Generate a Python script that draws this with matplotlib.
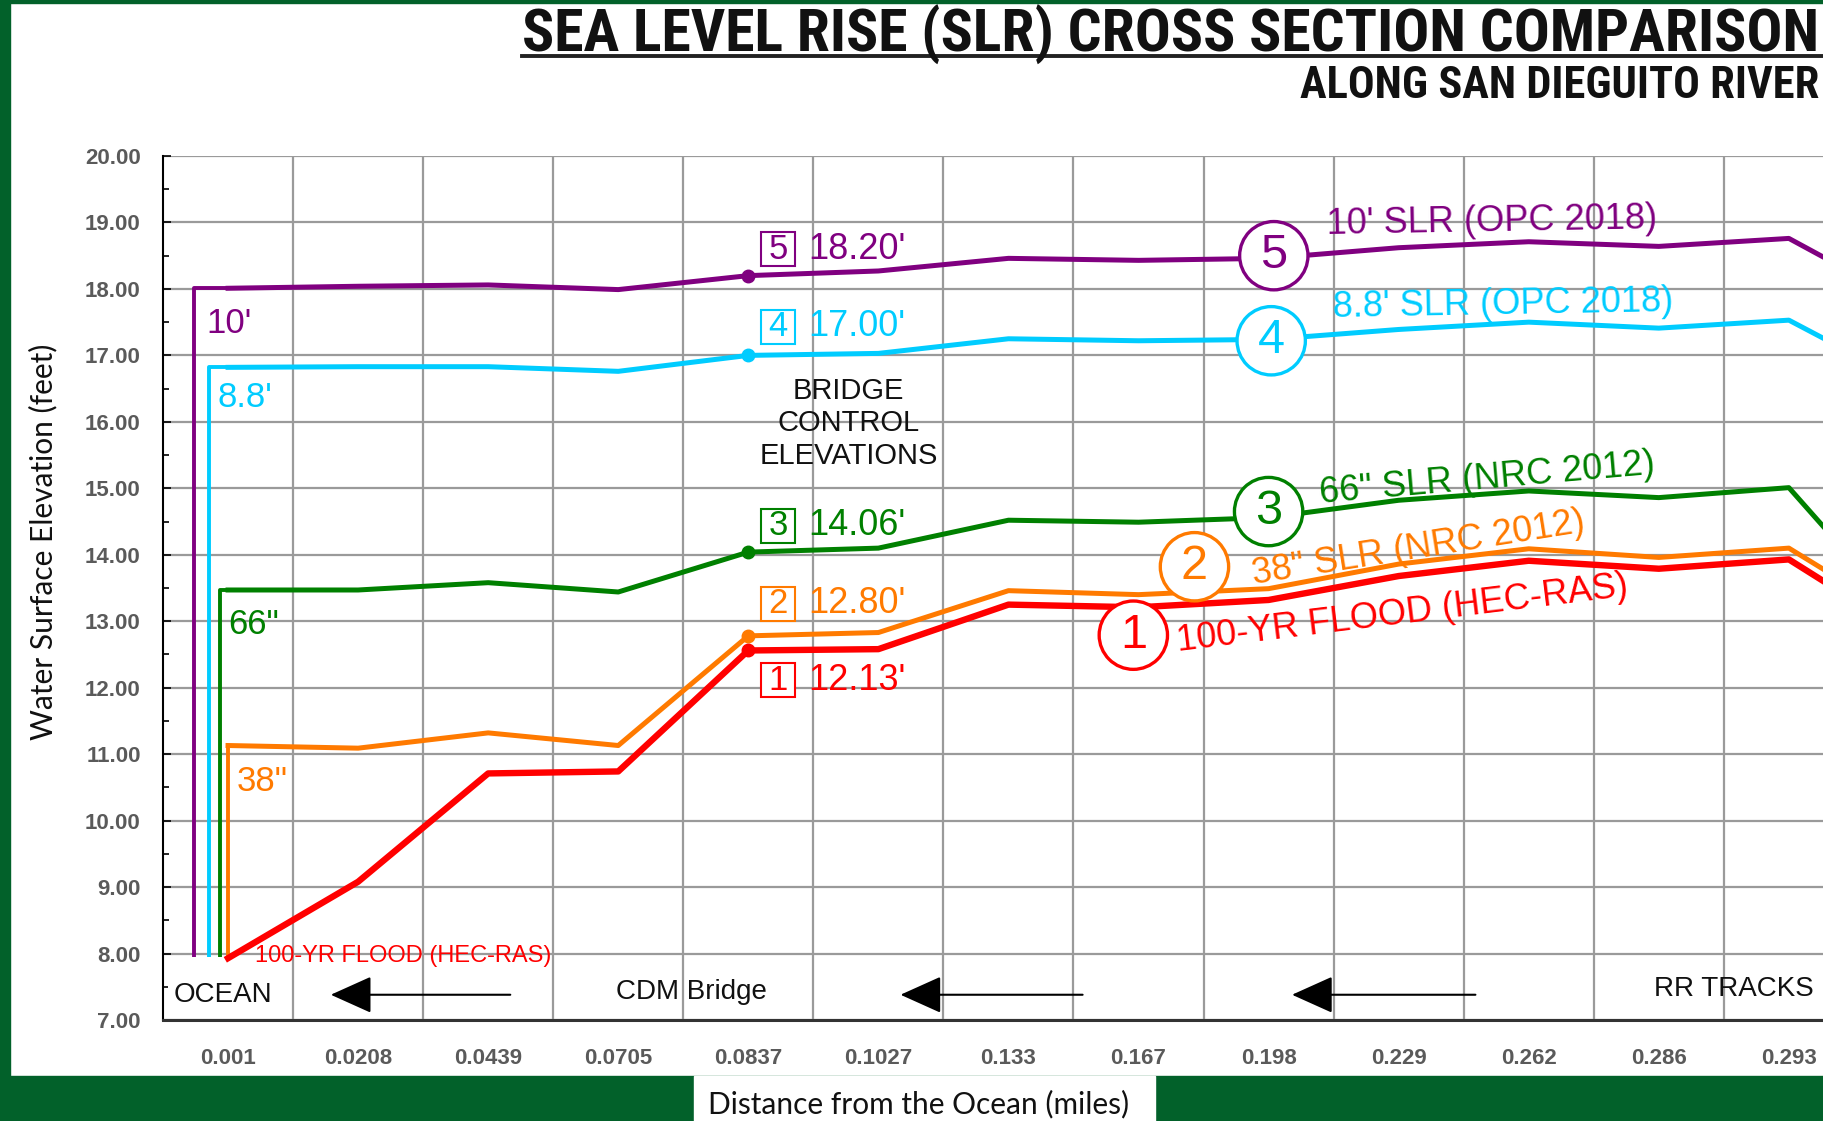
import numpy as np
import matplotlib
matplotlib.use('Agg')
import matplotlib.pyplot as plt
from matplotlib import font_manager
from matplotlib.font_manager import FontProperties
from matplotlib.patches import Rectangle
from matplotlib.lines import Line2D

# stations along the river, distance from the ocean (miles); the last one is cut off by the frame
distances = ['0.001', '0.0208', '0.0439', '0.0705', '0.0837', '0.1027', '0.133',
             '0.167', '0.198', '0.229', '0.262', '0.286', '0.293', '']

# water surface elevation (feet)
slr_10ft = [18.01, 18.04, 18.06, 17.99, 18.20, 18.27, 18.46, 18.43, 18.46, 18.62, 18.71, 18.64, 18.76, 17.70]
slr_88ft = [16.82, 16.83, 16.83, 16.76, 17.00, 17.03, 17.25, 17.22, 17.24, 17.39, 17.50, 17.41, 17.53, 16.50]
slr_66in = [13.47, 13.47, 13.58, 13.44, 14.04, 14.10, 14.52, 14.49, 14.56, 14.82, 14.96, 14.86, 15.01, 12.80]
slr_38in = [11.13, 11.09, 11.32, 11.13, 12.78, 12.83, 13.46, 13.40, 13.49, 13.86, 14.09, 13.96, 14.10, 12.90]
flood_100yr = [7.93, 9.08, 10.71, 10.74, 12.56, 12.58, 13.25, 13.21, 13.32, 13.68, 13.91, 13.79, 13.93, 12.70]

ocean_level = 7.95
# station (in category units) where each SLR curve rises out of the ocean
riser_at = [-0.26, -0.15, -0.06, 0.0]

series_names = ["10' SLR (OPC 2018)", "8.8' SLR (OPC 2018)", '66" SLR (NRC 2012)',
                '38" SLR (NRC 2012)', '100-YR FLOOD (HEC-RAS)']
short_names = ["10'", "8.8'", '66"', '38"']
bridge_values = ["18.20'", "17.00'", "14.06'", "12.80'", "12.13'"]
bridge_station = 4

colors = ['#800080', '#00CCFF', '#008000', '#FF7A00', '#FF0000']
frame_green = '#02612A'

arial = 'Liberation Sans'
label_font = 'Lato'


def condensed_bold():
    # pick a narrow bold face for the headings if one is installed
    prefs = ['LiberationSansNarrow-Bold', 'RobotoCondensed-Bold', 'DejaVuSansCondensed-Bold',
             'OpenSans_Condensed-Bold', 'OpenSansCondensed-Bold']
    files = [f.fname for f in font_manager.fontManager.ttflist]
    for p in prefs:
        for fn in files:
            if p.lower() in fn.replace(' ', '').lower():
                return fn
    return None


cond_file = condensed_bold()


def heading_font(size):
    if cond_file:
        return FontProperties(fname=cond_file, size=size)
    return FontProperties(family=arial, weight='bold', size=size)


W, H = 1824, 1121
fig = plt.figure(figsize=(W / 100, H / 100), dpi=100)
fig.patch.set_facecolor('white')

# plot area runs past the right edge of the picture (chart is cropped)
ax = fig.add_axes([163 / W, 1 - 1020 / H, 1821 / W, 864 / H])
x = np.arange(len(distances))
ax.set_xlim(-0.5, len(distances) - 0.5)
ax.set_ylim(7, 20)

ax.set_yticks(np.arange(7, 21))
ax.set_yticklabels([f'{v:.2f}' for v in np.arange(7, 21)])
ax.set_yticks(np.arange(7.5, 20, 1), minor=True)
ax.set_xticks(x)
ax.set_xticklabels(distances)
ax.set_xticks(np.arange(0.5, len(distances), 1), minor=True)

ax.grid(True, axis='y', which='major', color='#9a9a9a', lw=1.6, zorder=0)
ax.grid(True, axis='x', which='minor', color='#9a9a9a', lw=1.6, zorder=0)
ax.tick_params(axis='x', which='both', length=0, pad=20)
ax.tick_params(axis='y', which='major', direction='in', length=6, width=1.2, pad=16)
ax.tick_params(axis='y', which='minor', direction='in', length=4, width=1.2)
for lab in ax.get_xticklabels() + ax.get_yticklabels():
    lab.set_fontfamily(arial)
    lab.set_fontweight('bold')
    lab.set_fontsize(16)
    lab.set_color('#5a5a5a')
ax.spines['top'].set_visible(False)
ax.spines['right'].set_visible(False)
ax.spines['left'].set_linewidth(1.5)
ax.spines['bottom'].set_linewidth(2.2)
ax.spines['bottom'].set_color('#333333')

# SLR curves: riser from the ocean, then the profile
all_series = [slr_10ft, slr_88ft, slr_66in, slr_38in, flood_100yr]
for i, ys in enumerate(all_series):
    if i < 4:
        ax.plot([riser_at[i], riser_at[i], 0], [ocean_level, ys[0], ys[0]],
                color=colors[i], lw=2.8, solid_capstyle='butt', zorder=3)
    ax.plot(x, ys, color=colors[i], lw=4.6 if i == 4 else 3.6, solid_joinstyle='round', zorder=3)
    ax.plot(x[bridge_station], ys[bridge_station], 'o', color=colors[i], ms=9, zorder=4)

# short labels next to the risers
short_pos = [(-0.17, 17.48), (-0.08, 16.36), (0.0, 12.95), (0.07, 10.59)]
for i, (px, py) in enumerate(short_pos):
    ax.text(px, py, short_names[i], color=colors[i], fontsize=25, family=arial,
            ha='left', va='center', zorder=5)
ax.text(0.21, 7.96, series_names[4], color=colors[4], fontsize=17, family=arial,
        ha='left', va='center', zorder=5)

# bridge control elevations: boxed number + value
box_y = [18.60, 17.43, 14.44, 13.26, 12.11]
for i in range(5):
    ax.plot(4.23, box_y[i], marker='s', ms=25, mfc='white', mec=colors[i], mew=1.5, zorder=5)
    ax.text(4.23, box_y[i], str(5 - i), color=colors[i], fontsize=25, family=arial,
            ha='center', va='center', zorder=6)
    ax.text(4.46, box_y[i], bridge_values[i], color=colors[i], fontsize=26, family=arial,
            ha='left', va='center', zorder=5)
ax.text(4.77, 15.98, 'BRIDGE\nCONTROL\nELEVATIONS', color='#111111', fontsize=21, family=arial,
        ha='center', va='center', linespacing=1.2, zorder=5)

# circled series numbers and names
circle_pos = [(8.04, 18.50), (8.02, 17.22), (8.0, 14.65), (7.43, 13.82), (6.96, 12.79)]
name_pos = [(9.72, 19.02, 1), (9.80, 17.76, 1), (9.68, 15.14, 5), (9.15, 14.09, 9), (9.03, 13.11, 7)]
for i in range(5):
    cx, cy = circle_pos[i]
    ax.text(cx, cy, str(5 - i), color=colors[i], fontsize=35, family=arial,
            ha='center', va='center', zorder=6,
            bbox=dict(boxstyle='circle,pad=0.24', fc='white', ec=colors[i], lw=2.4))
    nx, ny, rot = name_pos[i]
    ax.text(nx, ny, series_names[i], color=colors[i], fontsize=26, family=arial,
            ha='center', va='center', rotation=rot, rotation_mode='anchor', zorder=5)

# river direction markers along the bottom
ax.text(-0.42, 7.38, 'OCEAN', color='#111111', fontsize=20, family=arial, ha='left', va='center',
        zorder=5, bbox=dict(boxstyle='square,pad=0.2', fc='white', ec='none'))
ax.text(3.56, 7.42, 'CDM Bridge', color='#111111', fontsize=20, family=arial, ha='center', va='center')
ax.text(11.58, 7.47, 'RR TRACKS', color='#111111', fontsize=20, family=arial, ha='center', va='center')
for tail, head in [(2.17, 0.79), (6.57, 5.17), (9.59, 8.18)]:
    ax.annotate('', xy=(head, 7.38), xytext=(tail, 7.38),
                arrowprops=dict(arrowstyle='-|>,head_length=1.0,head_width=0.45',
                                mutation_scale=26, color='black', lw=1.5, shrinkA=0, shrinkB=0))

# titles, sized to their width in the reference
renderer = fig.canvas.get_renderer()
title = fig.text(522 / W, 1 - 52 / H, 'SEA LEVEL RISE (SLR) CROSS SECTION COMPARISON',
                 fontproperties=heading_font(38), ha='left', va='baseline', color='#111111')
tw = title.get_window_extent(renderer).width
title.set_fontproperties(heading_font(38 * 1296 / tw))
fig.add_artist(Line2D([522 / W, 1], [1 - 56 / H] * 2, color='#222222', lw=2.8))

sub = fig.text(1300 / W, 1 - 98 / H, 'ALONG SAN DIEGUITO RIVER', fontproperties=heading_font(25),
               ha='left', va='baseline', color='#111111')
sw = sub.get_window_extent(renderer).width
sub.set_fontproperties(heading_font(25 * 520 / sw))

fig.text(43 / W, 1 - 542 / H, 'Water Surface Elevation (feet)', rotation=90, fontsize=21.5,
         family=label_font, ha='center', va='center', color='#111111')

# green slide frame
fig.add_artist(Rectangle((0, 0), 10 / W, 1, transform=fig.transFigure, color=frame_green, zorder=10))
fig.add_artist(Rectangle((0, 1 - 3 / H), 1, 3 / H, transform=fig.transFigure, color=frame_green, zorder=10))
fig.add_artist(Rectangle((0, 0), 1, 45 / H, transform=fig.transFigure, color=frame_green, zorder=10))
fig.add_artist(Rectangle((694 / W, 0), 461 / W, 45 / H, transform=fig.transFigure, color='white', zorder=11))
fig.text(919 / W, 1 - 1104 / H, 'Distance from the Ocean (miles)', fontsize=21.5, family=label_font,
         ha='center', va='center', color='#111111', zorder=12)

fig.savefig('out.png', dpi=100)
